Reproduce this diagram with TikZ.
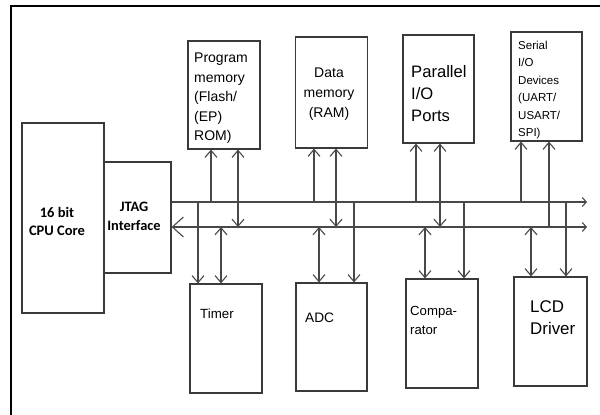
\documentclass[tikz,border=0pt]{standalone}
\usepackage{fontspec}
\setmainfont{Liberation Sans}
\newfontfamily\calib{Carlito}
\usetikzlibrary{arrows.meta}
\definecolor{edge}{RGB}{58,58,58}
\definecolor{wire}{RGB}{72,72,72}

\begin{document}
\begin{tikzpicture}[x=1pt, y=-1pt,
                    unit/.style={draw=edge, line width=1.2pt, inner sep=0pt},
                    lbl/.style={inner sep=0pt, align=left, anchor=north west},
                    hdr/.style={inner sep=0pt, align=center, color=black},
                    link/.style={draw=wire, line width=1.1pt},
                    >={Straight Barb[length=7pt,width=12pt]}]
  \useasboundingbox (0,0) rectangle (600,415);
  % outer frame (left and top only)
  \draw[line width=2.5pt] (11,415) -- (11,6) -- (600,6);

  % core blocks
  \node[unit, minimum width=82pt, minimum height=190pt] (cpu)  at (63,218)    {};
  \node[unit, minimum width=67pt, minimum height=111pt] (jtag) at (137.5,217.5) {};
  \node[hdr, font=\calib\bfseries\fontsize{14.5}{18}\selectfont] (cputxt)  at (57,221)    {16 bit\\CPU Core};
  \node[hdr, font=\calib\bfseries\fontsize{14.4}{19}\selectfont] (jtagtxt) at (134,216.5) {JTAG\\Interface};

  % peripherals above the bus
  \node[unit, minimum width=72pt, minimum height=108pt] (pmem) at (224,95)    {};
  \node[unit, minimum width=72pt, minimum height=111pt] (dmem) at (331.5,92.5) {};
  \node[unit, minimum width=71pt, minimum height=108pt] (pio)  at (438.5,89)  {};
  \node[unit, minimum width=71pt, minimum height=109pt] (sio)  at (546.5,86.5) {};
  \node[lbl, font=\fontsize{14}{19.5}\selectfont] (pmemtxt) at (194,53)
    {Program\\memory\\(Flash/\\(EP)\\ROM)};
  \node[lbl, align=center, anchor=north, font=\fontsize{14}{20}\selectfont] (dmemtxt) at (329,68)
    {Data\\memory\\(RAM)};
  \node[lbl, font=\fontsize{16.6}{22}\selectfont] (piotxt) at (411,65)
    {Parallel\\I/O\\Ports};
  \node[lbl, font=\fontsize{11.5}{17.4}\selectfont] (siotxt) at (518,41)
    {Serial\\I/O\\Devices\\(UART/\\USART/\\SPI)};

  % peripherals below the bus
  \node[unit, minimum width=72pt, minimum height=109pt] (timer) at (226,338.5) {};
  \node[unit, minimum width=71pt, minimum height=108pt] (adc)   at (331.5,337) {};
  \node[unit, minimum width=72pt, minimum height=109pt] (comp)  at (442,333.5) {};
  \node[unit, minimum width=73pt, minimum height=109pt] (lcd)   at (550.5,331.5) {};
  \node[lbl, anchor=west, font=\fontsize{13.3}{16}\selectfont] (timertxt) at (200,314) {Timer};
  \node[lbl, anchor=west, font=\fontsize{13.7}{16}\selectfont] (adctxt)   at (305,318) {ADC};
  \node[lbl, font=\fontsize{13.2}{19}\selectfont] (comptxt) at (410,306) {Compa-\\rator};
  \node[lbl, font=\fontsize{16.9}{22}\selectfont] (lcdtxt)  at (530,300) {LCD\\Driver};

  % the two bus lines
  \coordinate (ub) at (0,202);
  \coordinate (lb) at (0,227);
  \coordinate (ubend) at (587,202);
  \coordinate (lbend) at (587,227);
  \draw[link, -{Straight Barb[length=4pt,width=9pt]}] (jtag.east |- ub) -- (ubend);
  \draw[link, {Straight Barb[length=11pt,width=20pt]}-{Straight Barb[length=4pt,width=9pt]}]
    (jtag.east |- lb) -- (lbend);

  % taps to the upper blocks
  \foreach \x/\blk in {211/pmem, 314/dmem, 416/pio, 521/sio}
    \draw[link, ->] (\x,0 |- ub) -- (\x,0 |- \blk.south);
  \foreach \x/\blk in {238/pmem, 336/dmem, 440/pio}
    \draw[link, <->] (\x,0 |- lb) -- (\x,0 |- \blk.south);
  \draw[link, ->] (549,0 |- lb) -- (549,0 |- sio.south);

  % taps to the lower blocks
  \foreach \x/\blk in {198/timer, 354/adc, 464/comp, 566/lcd}
    \draw[link, ->] (\x,0 |- ub) -- (\x,0 |- \blk.north);
  \foreach \x/\blk in {221/timer, 319/adc, 425/comp, 531/lcd}
    \draw[link, <->] (\x,0 |- lb) -- (\x,0 |- \blk.north);
\end{tikzpicture}
\end{document}
